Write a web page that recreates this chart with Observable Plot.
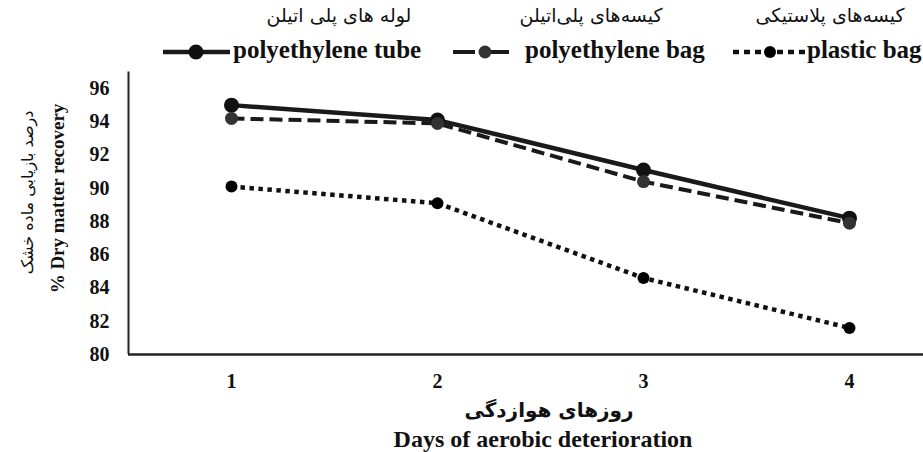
<!DOCTYPE html>
<html>
<head>
<meta charset="utf-8">
<script src="https://cdn.jsdelivr.net/npm/d3@7"></script>
<script src="https://cdn.jsdelivr.net/npm/@observablehq/plot@0.6"></script>
<style>
  html, body { margin: 0; padding: 0; background: #fff; }
  #wrap { width: 923px; height: 452px; position: relative; overflow: hidden; }
  #legend { position: relative; width: 923px; height: 68px; }
  .fa { position: absolute; font-family: "DejaVu Sans", sans-serif; font-size: 19px; color: #111; direction: rtl; white-space: nowrap; }
  .en { position: absolute; font-family: "Liberation Serif", "Times New Roman", serif; font-weight: bold; font-size: 25px; color: #111; white-space: nowrap; }
  #legend svg { position: absolute; left: 0; top: 0; }
</style>
</head>
<body>
<div id="wrap">
  <div id="legend"></div>
  <div id="chart"></div>
</div>
<script>
// ---- data ----
const days = [1, 2, 3, 4];
const seriesNames = ["polyethylene tube", "polyethylene bag", "plastic bag"];
const seriesNamesFa = ["لوله های پلی اتیلن", "کیسه‌های پلی‌اتیلن", "کیسه‌های پلاستیکی"];
const tubeValues = [95.0, 94.1, 91.1, 88.2];
const bagValues = [94.2, 93.9, 90.4, 87.9];
const plasticValues = [90.1, 89.1, 84.6, 81.6];
const yTicks = [80, 82, 84, 86, 88, 90, 92, 94, 96];
const xTicks = [1, 2, 3, 4];
const yTitleEn = "% Dry matter recovery";
const yTitleFa = "درصد بازیابی ماده خشک";
const xTitleEn = "Days of aerobic deterioration";
const xTitleFa = "روزهای هوازدگی";

// ---- styles ----
const styles = [
  {stroke: "#1a1a1a", width: 4.5, dash: null, r: 7.5, fill: "#111"},
  {stroke: "#1a1a1a", width: 4, dash: "13,6", r: 6.5, fill: "#333"},
  {stroke: "#111", width: 4.5, dash: "4.5,4.5", r: 6, fill: "#000"}
];
const allValues = [tubeValues, bagValues, plasticValues];
const rows = [];
seriesNames.forEach((s, i) => days.forEach((d, j) => rows.push({series: s, day: d, value: allValues[i][j]})));

const serif = "'Liberation Serif', 'Times New Roman', serif";
const faFont = "'DejaVu Sans', sans-serif";

const marks = [];
seriesNames.forEach((s, i) => {
  const st = styles[i];
  const data = rows.filter(r => r.series === s);
  marks.push(Plot.line(data, {x: "day", y: "value", stroke: st.stroke, strokeWidth: st.width,
    strokeDasharray: st.dash, strokeLinecap: "butt", strokeLinejoin: "round"}));
});
seriesNames.forEach((s, i) => {
  const st = styles[i];
  const data = rows.filter(r => r.series === s);
  marks.push(Plot.dot(data, {x: "day", y: "value", r: st.r, fill: st.fill, stroke: "none"}));
});

const chart = Plot.plot({
  width: 923,
  height: 384,
  marginLeft: 128,
  marginRight: 0,
  marginTop: 4,
  marginBottom: 98,
  style: {background: "#fff", overflow: "hidden"},
  x: {type: "linear", domain: [0.5, 4.5], range: [128, 952]},
  y: {domain: [80, 96], range: [286, 20]},
  marks: [
    Plot.axisY({ticks: yTicks, tickSize: 0, tickPadding: 19, fontSize: 20, fontWeight: "bold",
      fontFamily: serif, fill: "#111", label: null}),
    Plot.axisX({ticks: xTicks, tickSize: 0, tickPadding: 19, fontSize: 20, fontWeight: "bold",
      fontFamily: serif, fill: "#111", label: null, tickFormat: d => String(d)}),
    Plot.ruleX([0.5], {y1: 80, y2: 97, stroke: "#222", strokeWidth: 2}),
    Plot.ruleY([80], {x1: 0.5, x2: 4.6, stroke: "#222", strokeWidth: 2.5}),
    ...marks,
    Plot.text([yTitleEn], {frameAnchor: "left", textAnchor: "middle", dx: -71, dy: -15, rotate: -90, fontSize: 19,
      fontWeight: "bold", fontFamily: serif, fill: "#111"}),
    Plot.text([yTitleFa], {frameAnchor: "left", textAnchor: "middle", dx: -101, dy: -21, rotate: -90, fontSize: 16,
      fontFamily: faFont, fill: "#111"}),
    Plot.text([xTitleFa], {frameAnchor: "bottom", textAnchor: "middle", dx: 23, dy: 62, fontSize: 20,
      fontWeight: "bold", fontFamily: faFont, fill: "#111"}),
    Plot.text([xTitleEn], {frameAnchor: "bottom", textAnchor: "middle", dx: 17, dy: 92, fontSize: 24,
      fontWeight: "bold", fontFamily: serif, fill: "#111"})
  ]
});
document.getElementById("chart").appendChild(chart);

// ---- legend ----
const legend = d3.select("#legend");
const lsvg = legend.append("svg").attr("width", 923).attr("height", 68);
const sw = [
  {x1: 163, x2: 230, cx: 196},
  {x1: 453, x2: 518, cx: 485},
  {x1: 733, x2: 805, cx: 770}
];
const textX = [233, 525, 807];
const faCenter = [339, 591, 830];
seriesNames.forEach((s, i) => {
  const st = styles[i];
  lsvg.append("line").attr("x1", sw[i].x1).attr("x2", sw[i].x2).attr("y1", 52).attr("y2", 52)
    .attr("stroke", st.stroke).attr("stroke-width", st.width)
    .attr("stroke-dasharray", st.dash ? (i === 1 ? "22,12" : "6,5") : null);
  lsvg.append("circle").attr("cx", sw[i].cx).attr("cy", 52).attr("r", st.r).attr("fill", st.fill);
  legend.append("div").attr("class", "en").style("left", textX[i] + "px").style("top", "36px").text(s);
  legend.append("div").attr("class", "fa").style("left", (faCenter[i] - 110) + "px").style("width", "220px")
    .style("text-align", "center").style("top", "4px").text(seriesNamesFa[i]);
});
</script>
</body>
</html>
